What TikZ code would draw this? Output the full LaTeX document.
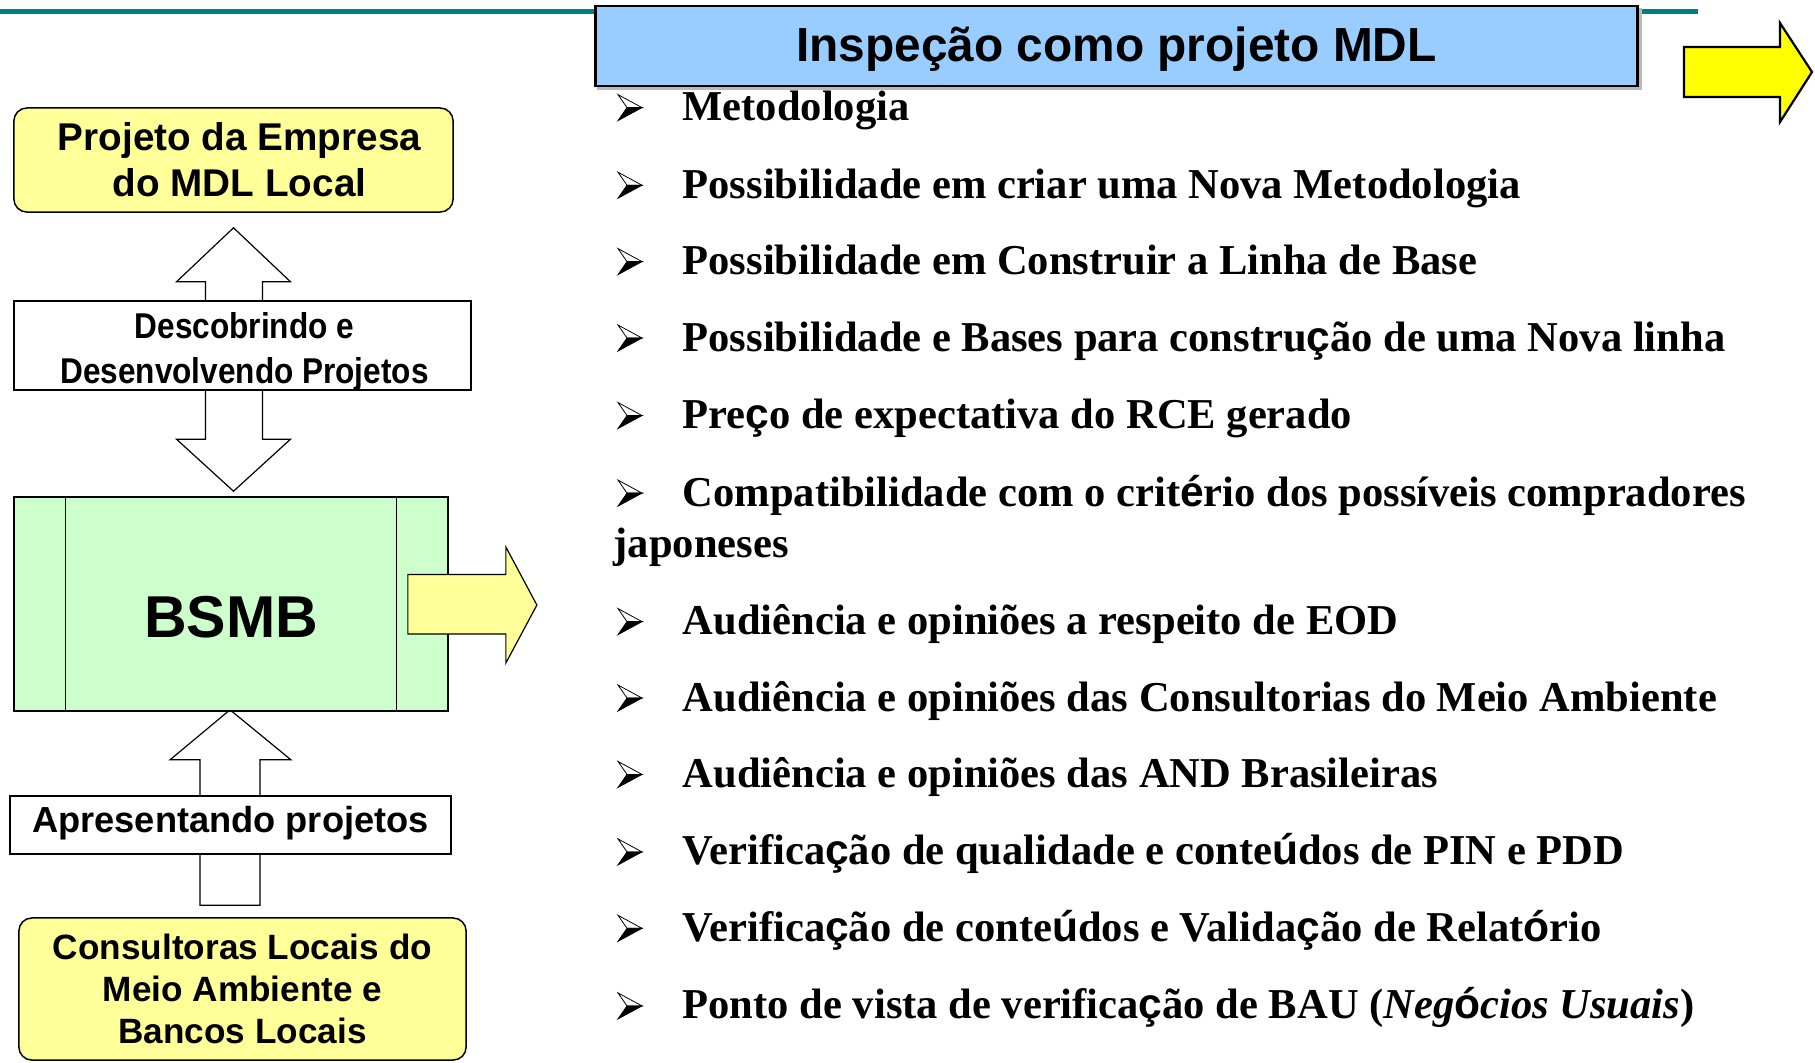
\documentclass[tikz,border=0pt]{standalone}
\usepackage{fontspec}
\setmainfont{Liberation Serif}
\newfontfamily\arialf{Liberation Sans}
\newfontfamily\arialn[FakeStretch=0.88]{Liberation Sans}
\newcommand\fbk[1]{{\arialf\upshape\bfseries #1}}
\usetikzlibrary{calc,backgrounds}
\definecolor{tealline}{HTML}{008080}
\definecolor{titleblue}{HTML}{99CCFF}
\definecolor{paleyellow}{HTML}{FFFF99}
\definecolor{palegreen}{HTML}{CCFFCC}
\definecolor{brightyellow}{HTML}{FFFF00}
\tikzset{
  box/.style={draw, line width=0.015cm, inner sep=0pt, align=center},
  yelbox/.style={box, fill=paleyellow, rounded corners=0.13cm},
  whitebox/.style={box, fill=white},
  hollow/.style={draw, fill=white, line width=0.012cm, line join=miter},
  bulltext/.style={anchor=base west, inner sep=0pt, font=\bfseries\fontsize{12.1}{14}\selectfont},
  arrbul/.pic={
    \filldraw[fill=white, line width=0.008cm, line join=miter] (0,-26) -- (24,-13) -- (9,-13) -- cycle;
    \filldraw[fill=black, line width=0.008cm, line join=miter] (9,-13) -- (24,-13) -- (0,0) -- cycle;
  }
}
\begin{document}
\begin{tikzpicture}[x=0.01cm,y=-0.01cm]
\useasboundingbox (0,0) rectangle (1815,1062);

% ---------- left column boxes ----------
\node[yelbox, minimum width=4.39cm, minimum height=1.04cm] (b1) at (233.5,160) {};
\node[align=center, inner sep=0pt, font=\arialf\bfseries\fontsize{11}{13.1}\selectfont]
      (b1t) at ([xshift=0.06cm]b1.center) {Projeto da Empresa\\do MDL Local};
\node[whitebox, minimum width=4.57cm, minimum height=0.89cm] (b2) at (242.5,345.5) {};
\node[align=center, inner sep=0pt, font=\arialn\bfseries\fontsize{10.2}{12.8}\selectfont]
      (b2t) at ([xshift=0.02cm,yshift=-0.06cm]b2.center) {Descobrindo e\\Desenvolvendo Projetos};
\node[box, fill=palegreen, minimum width=4.34cm, minimum height=2.14cm] (bsmb) at (231,604) {};
\node[inner sep=0pt, font=\arialf\bfseries\fontsize{16.8}{20}\selectfont]
      (bsmbt) at ([yshift=-0.13cm]bsmb.center) {BSMB};
\draw[line width=0.012cm] ($(bsmb.north west)+(52,0)$) -- ($(bsmb.south west)+(52,0)$);
\draw[line width=0.012cm] ($(bsmb.north east)+(-52,0)$) -- ($(bsmb.south east)+(-52,0)$);
\node[whitebox, minimum width=4.41cm, minimum height=0.58cm] (b3) at (230.5,825) {};
\node[inner sep=0pt, font=\arialf\bfseries\fontsize{10.3}{12}\selectfont]
      (b3t) at ([yshift=0.02cm]b3.center) {Apresentando projetos};
\node[yelbox, minimum width=4.47cm, minimum height=1.42cm,
      font=\arialf\bfseries\fontsize{10}{11.95}\selectfont] (b4) at (242.5,989)
      {Consultoras Locais do\\Meio Ambiente e\\Bancos Locais};

% ---------- title ----------
\node[draw, fill=titleblue, line width=0.025cm, minimum width=10.41cm, minimum height=0.80cm,
      inner sep=0pt] (titlebox) at (1116.5,46) {};
\node[inner sep=0pt, font=\arialf\bfseries\fontsize{13.6}{16}\selectfont]
      (title) at ([yshift=-0.035cm]titlebox.center) {Inspeção como projeto MDL};

\begin{scope}[on background layer]
  \draw[tealline, line width=0.05cm] (0,11.7) -- (1698,11.7);
  \fill[gray!55] ($(titlebox.north west)+(3,3)$) rectangle ($(titlebox.south east)+(3,3)$);
  % double arrow between b1 and bsmb
  \coordinate (d1t) at ($(b1.south)+(0,15)$);
  \coordinate (d1b) at ($(b1.south |- bsmb.north)+(0,-5)$);
  \draw[hollow] (d1t) -- ++(57,54) -- ++(-28,0) -- ($(d1b)+(29,-52)$) -- ++(28,0)
     -- (d1b) -- ++(-57,-52) -- ++(29,0) -- ($(d1t)+(-28,54)$) -- ++(-29,0) -- cycle;
  % up arrow from b4 to bsmb
  \coordinate (u2t) at ($(bsmb.south)+(-1,-2)$);
  \coordinate (u2b) at ($(u2t |- b4.north)+(0,-12)$);
  \draw[hollow] (u2t) -- ++(61,50) -- ++(-31,0) -- ($(u2b)+(30,0)$) -- ($(u2b)+(-30,0)$)
     -- ($(u2t)+(-30,50)$) -- ++(-30,0) -- cycle;
\end{scope}

% ---------- arrow out of BSMB ----------
\coordinate (ra) at (bsmb.east);
\draw[fill=paleyellow, line width=0.012cm, line join=miter]
  ($(ra)+(-41,-29.5)$) -- ($(ra)+(57,-29.5)$) -- ($(ra)+(57,-57)$) -- ($(ra)+(88,1)$)
  -- ($(ra)+(57,59)$) -- ($(ra)+(57,30)$) -- ($(ra)+(-41,30)$) -- cycle;

% ---------- top-right arrow ----------
\coordinate (tra) at (1684,72);
\draw[fill=brightyellow, line width=0.022cm, line join=miter]
  ($(tra)+(0,-25)$) -- ($(tra)+(96,-25)$) -- ($(tra)+(96,-49)$) -- ($(tra)+(128,0)$)
  -- ($(tra)+(96,50)$) -- ($(tra)+(96,25)$) -- ($(tra)+(0,25)$) -- cycle;

% ---------- bullet list ----------
\foreach \yy in {120.6,198.2,274.6,351,428.5,506.1,634.6,711,787.4,864.9,941.3,1018.9}
  \pic at (618,\yy) {arrbul};
\node[bulltext] (t1) at (682,120.6) {Metodologia};
\node[bulltext] (t2) at (682,198.2) {Possibilidade em criar uma Nova Metodologia};
\node[bulltext] (t3) at (682,274.6) {Possibilidade em Construir a Linha de Base};
\node[bulltext] (t4) at (682,351) {Possibilidade e Bases para constru\fbk{ç}ão de uma Nova linha};
\node[bulltext] (t5) at (682,428.5) {Pre\fbk{ç}o de expectativa do RCE gerado};
\node[bulltext] (t6) at (682,506.1) {Compatibilidade com o crit\fbk{é}rio dos possíveis compradores};
\node[bulltext] (t6b) at (613,557) {japoneses};
\node[bulltext] (t7) at (682,634.6) {Audiência e opiniões a respeito de EOD};
\node[bulltext] (t8) at (682,711) {Audiência e opiniões das Consultorias do Meio Ambiente};
\node[bulltext] (t9) at (682,787.4) {Audiência e opiniões das AND Brasileiras};
\node[bulltext] (t10) at (682,864.9) {Verifica\fbk{ç}ão de qualidade e conte\fbk{ú}dos de PIN e PDD};
\node[bulltext] (t11) at (682,941.3) {Verifica\fbk{ç}ão de conte\fbk{ú}dos e Valida\fbk{ç}ão de Relat\fbk{ó}rio};
\node[bulltext] (t12) at (682,1018.9) {Ponto de vista de verifica\fbk{ç}ão de BAU (\textit{Neg\fbk{ó}cios Usuais})};
\end{tikzpicture}
\end{document}
